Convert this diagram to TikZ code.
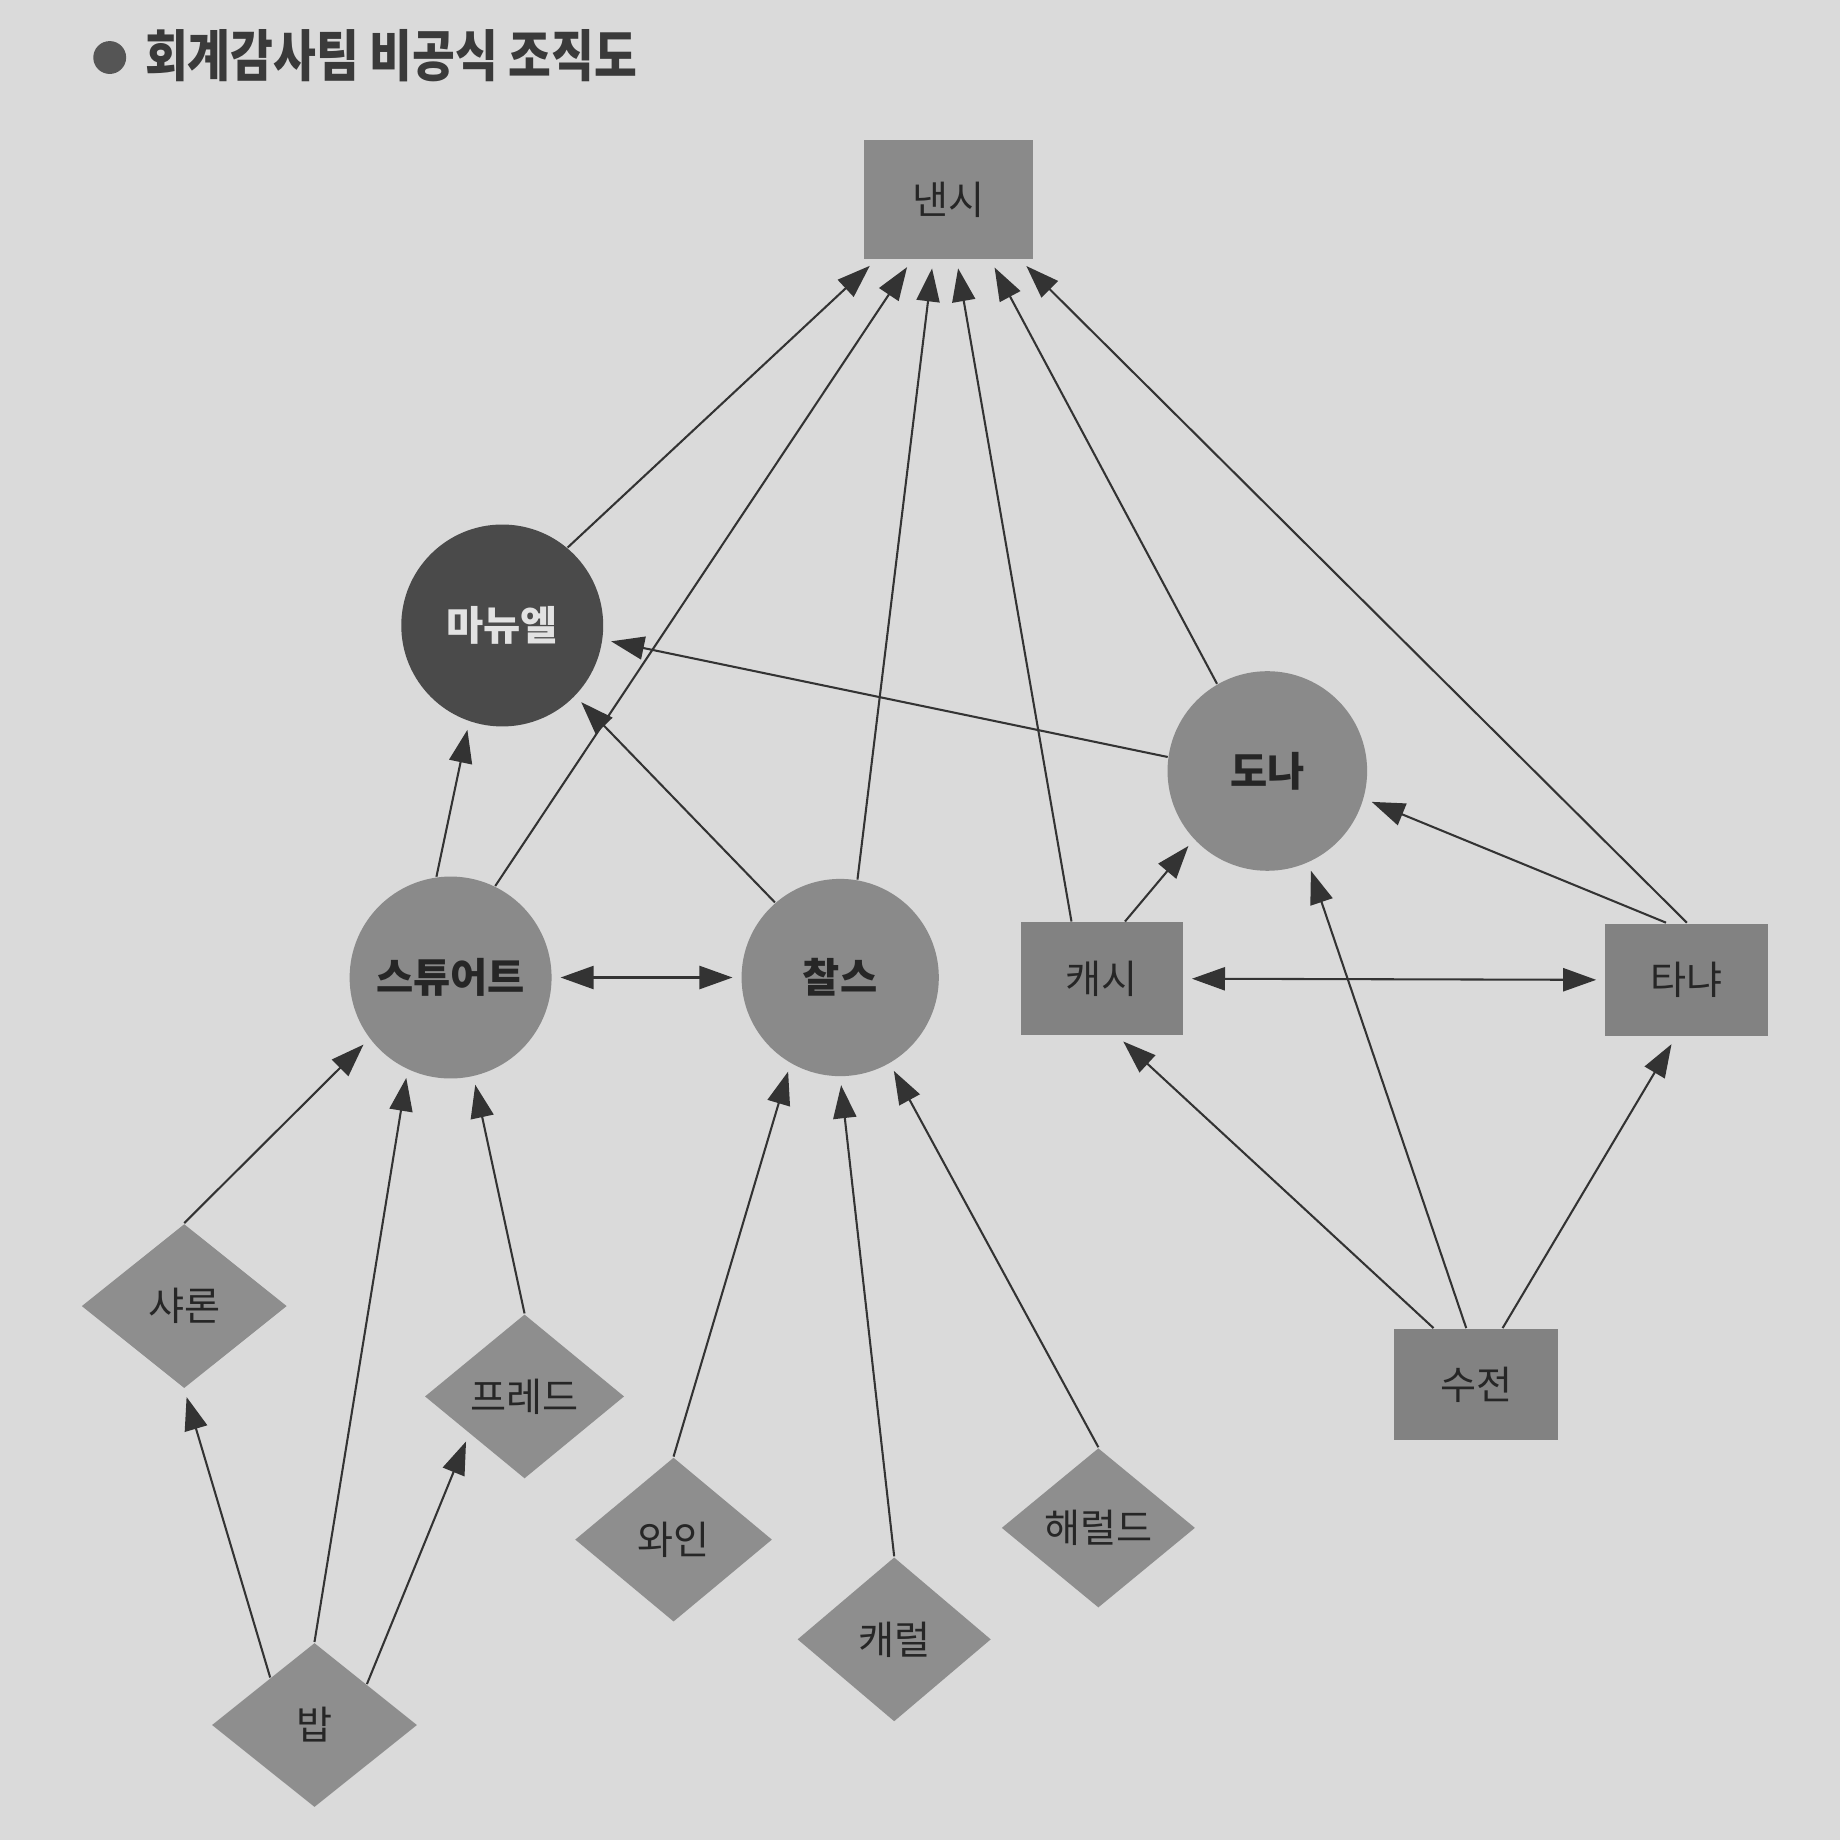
\documentclass[tikz,border=0pt]{standalone}
\usepackage{fontspec}
\setmainfont{Noto Sans CJK KR}
\usetikzlibrary{arrows.meta,shapes.geometric}
\definecolor{bg}{HTML}{DADADA}
\definecolor{nodegray}{HTML}{8A8A8A}
\definecolor{rectgray}{HTML}{828282}
\definecolor{diagray}{HTML}{8E8E8E}
\definecolor{darkfill}{HTML}{4A4A4A}
\definecolor{linec}{HTML}{333333}
\definecolor{txt}{HTML}{262626}
\definecolor{lighttxt}{HTML}{E2E2E2}
\definecolor{titlec}{HTML}{3A3A3A}
\definecolor{bulletc}{HTML}{555555}
\begin{document}
\begin{tikzpicture}[x=0.01cm,y=-0.01cm,
  rectnode/.style={rectangle, fill=rectgray, draw=none, inner sep=0pt, text=txt,
    font=\fontsize{9.5pt}{11pt}\selectfont},
  circnode/.style={circle, fill=nodegray, draw=none, inner sep=0pt, text=txt,
    font=\fontsize{9.8pt}{11pt}\selectfont\bfseries},
  dianode/.style={diamond, aspect=1.2, fill=diagray, draw=none, inner sep=0pt, text=txt,
    font=\fontsize{9.5pt}{11pt}\selectfont},
  arr/.style={draw=linec, line width=0.5pt, -{Triangle[length=8pt,width=5.6pt]}, shorten >=2pt},
  darr/.style={draw=linec, line width=0.5pt, {Triangle[length=8pt,width=5.6pt]}-{Triangle[length=8pt,width=5.6pt]}, shorten >=2pt, shorten <=2pt}
]
\fill[bg] (0,0) rectangle (1568,1568);
\useasboundingbox (0,0) rectangle (1568,1568);

% title
\node[circle, fill=bulletc, minimum size=0.28cm, inner sep=0pt] (bullet) at (93.5,49) {};
\node[anchor=west, inner sep=0pt, text=titlec, font=\fontsize{13.5pt}{15pt}\selectfont\bfseries] (title) at (123,47)
  {\scalebox{0.835}[1]{회계감사팀 비공식 조직도}};

% rectangles
\node[rectnode, fill=nodegray, minimum width=1.44cm, minimum height=1.02cm] (nancy) at (808,170) {낸시};
\node[rectnode, minimum width=1.38cm, minimum height=0.96cm] (kathy) at (939,834) {캐시};
\node[rectnode, minimum width=1.39cm, minimum height=0.96cm] (tanya) at (1437.5,835) {타냐};
\node[rectnode, minimum width=1.40cm, minimum height=0.95cm] (susan) at (1258,1180) {수전};

% circles
\node[circnode, fill=darkfill, text=lighttxt, minimum size=1.72cm] (manuel) at (428,533) {마뉴엘};
\node[circnode, minimum size=1.70cm] (donna) at (1080,657) {도나};
\node[circnode, minimum size=1.72cm] (stuart) at (384,833) {스튜어트};
\node[circnode, minimum size=1.68cm] (charles) at (716,833) {찰스};

% diamonds
\node[dianode, minimum width=1.75cm, minimum height=1.40cm] (sharon) at (157,1113) {샤론};
\node[dianode, minimum width=1.70cm, minimum height=1.40cm] (fred) at (447,1190) {프레드};
\node[dianode, minimum width=1.68cm, minimum height=1.40cm] (wine) at (574,1312) {와인};
\node[dianode, minimum width=1.65cm, minimum height=1.40cm] (carol) at (762,1397) {캐럴};
\node[dianode, minimum width=1.65cm, minimum height=1.36cm] (harold) at (936,1302) {해럴드};
\node[dianode, minimum width=1.75cm, minimum height=1.40cm] (bob) at (268,1470) {밥};

% edges to nancy
\draw[arr] (manuel.50) -- (nancy.220);
\draw[arr] (stuart.64) -- (nancy.239);
\draw[arr] (charles.80) -- (nancy.256);
\draw[arr] (kathy.118) -- (nancy.278);
\draw[arr] (donna.120) -- (nancy.305);
\draw[arr] (tanya.north) -- (nancy.320);

% edges to manuel
\draw[arr] (donna.172) -- (manuel.352);
\draw[arr] (stuart.98) -- (manuel.251);
\draw[arr] (charles.131) -- (manuel.316);

% double arrows
\draw[darr] (stuart.east) -- (charles.west);
\draw[darr] (kathy.east) -- (tanya.west);

% edges to donna
\draw[arr] (kathy.68) -- (donna.223);
\draw[arr] (tanya.110) -- (donna.344);
\draw[arr] (susan.100) -- (donna.294);

% from susan
\draw[arr] (susan.127) -- (kathy.285);
\draw[arr] (susan.65) -- (tanya.259);

% to stuart
\draw[arr] (sharon.north) -- (stuart.217);
\draw[arr] (bob.north) -- (stuart.245);
\draw[arr] (fred.north) -- (stuart.283);

% from bob
\draw[arr] (bob.133) -- (sharon.south);
\draw[arr] (bob.38) -- (fred.214);

% to charles
\draw[arr] (wine.north) -- (charles.240);
\draw[arr] (carol.north) -- (charles.south);
\draw[arr] (harold.north) -- (charles.300);
\end{tikzpicture}
\end{document}
